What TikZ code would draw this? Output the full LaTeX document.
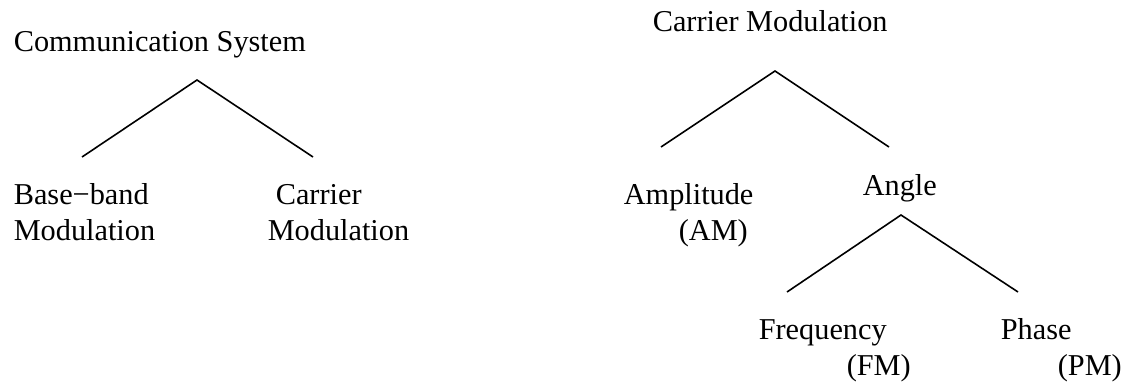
\documentclass[tikz,border=0pt]{standalone}
\usepackage{fontspec}
\setmainfont{Liberation Serif}
\begin{document}
\begin{tikzpicture}[x=1pt,y=-1pt,line width=1.6pt,
    txt/.style={anchor=base west,inner sep=0pt,align=left,
      font=\fontsize{30.3}{36}\selectfont}]
  \useasboundingbox (0,0) rectangle (1129,387);
  % communication system
  \node[txt] (comm) at (13,52) {Communication System};
  \node[txt] (base) at (13,241) {Base−band\\Modulation};
  \node[txt] (carr) at (267,241) {\hspace*{8pt}Carrier\\Modulation};
  \coordinate (commtop) at (197,80);
  \coordinate (baseend) at (82,157);
  \coordinate (carrend) at (313,157);
  \draw (baseend) -- (commtop) -- (carrend);
  % carrier modulation
  \node[txt] (cmod) at (652,32) {Carrier Modulation};
  \node[txt] (ampl) at (623,241) {Amplitude\\\hspace*{55pt}(AM)};
  \node[txt] (angl) at (862,196) {Angle};
  \coordinate (cmodtop) at (775,71);
  \coordinate (amplend) at (661,147);
  \coordinate (anglend) at (889,147);
  \draw (amplend) -- (cmodtop) -- (anglend);
  % angle
  \node[txt] (freq) at (758,375) {Frequency\\\hspace*{88pt}(FM)};
  \node[txt] (phas) at (1000,375) {Phase\\\hspace*{57pt}(PM)};
  \coordinate (angltop) at (901,215);
  \coordinate (freqend) at (787,292);
  \coordinate (phasend) at (1018,292);
  \draw (freqend) -- (angltop) -- (phasend);
\end{tikzpicture}
\end{document}
